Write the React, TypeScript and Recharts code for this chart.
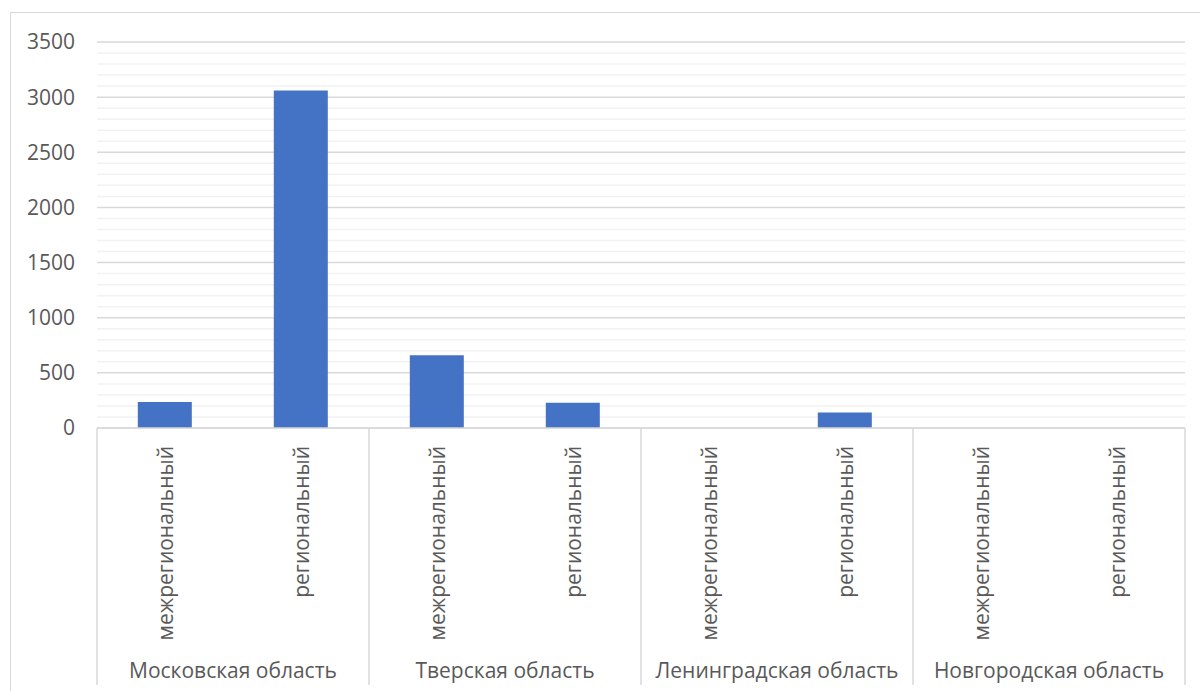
import { BarChart, Bar, XAxis, YAxis, CartesianGrid } from "recharts";

const regions = ["Московская область", "Тверская область", "Ленинградская область", "Новгородская область"];
const routeTypes = ["межрегиональный", "региональный"];
const counts = [235, 3060, 660, 230, 0, 140, 0, 0];
const yTicks = [0, 500, 1000, 1500, 2000, 2500, 3000, 3500];
const minorTicks = [
  100, 200, 300, 400, 600, 700, 800, 900, 1100, 1200, 1300, 1400, 1600, 1700, 1800, 1900,
  2100, 2200, 2300, 2400, 2600, 2700, 2800, 2900, 3100, 3200, 3300, 3400,
];
const Y_MAX = 3500;

const data = counts.map((value, i) => ({
  key: String(i),
  region: regions[Math.floor(i / routeTypes.length)],
  type: routeTypes[i % routeTypes.length],
  value,
}));

const W = 1200;
const H = 691;
const MARGIN = { top: 42, right: 15, left: 0, bottom: 0 };
const YAXIS_W = 97;
const XAXIS_H = 263;
const BAND = (W - MARGIN.left - MARGIN.right - YAXIS_W) / data.length;
const TEXT = "#595959";
const LINE = "#d9d9d9";

function CategoryTick(props: any) {
  const { x, y, payload } = props;
  const i = props.index ?? payload.index;
  const row = data[i];
  const half = BAND / 2;
  const first = i % routeTypes.length === 0;
  return (
    <g>
      <text
        transform={`translate(${x + 8},${y + 18}) rotate(-90)`}
        textAnchor="end"
        fill={TEXT}
        fontSize={21}
      >
        {row.type}
      </text>
      {first && (
        <>
          <line x1={x - half} x2={x - half} y1={y} y2={y + 257} stroke={LINE} strokeWidth={1.5} />
          <text x={x + half} y={y + 250} textAnchor="middle" fill={TEXT} fontSize={21}>
            {row.region}
          </text>
        </>
      )}
      {i === data.length - 1 && (
        <line x1={x + half} x2={x + half} y1={y} y2={y + 257} stroke={LINE} strokeWidth={1.5} />
      )}
    </g>
  );
}

export default function App() {
  return (
    <div
      style={{
        position: "absolute",
        left: 0,
        top: 0,
        width: W,
        height: H,
        overflow: "hidden",
        background: "#fff",
        fontFamily: "'Open Sans', sans-serif",
      }}
    >
      <div
        style={{
          position: "absolute",
          left: 10,
          top: 12,
          width: 1300,
          height: 800,
          border: `1.5px solid ${LINE}`,
        }}
      />
      <div style={{ position: "absolute", left: 0, top: 0 }}>
        <BarChart width={W} height={H} data={data} margin={MARGIN} barCategoryGap="30%">
          <CartesianGrid
            vertical={false}
            stroke="#f2f2f2"
            strokeWidth={1.5}
            horizontalCoordinatesGenerator={({ offset }: any) =>
              minorTicks.map((v) => offset.top + offset.height * (1 - v / Y_MAX))
            }
          />
          <CartesianGrid vertical={false} stroke={LINE} strokeWidth={1.5} />
          <XAxis
            dataKey="key"
            interval={0}
            height={XAXIS_H}
            tickLine={false}
            tickSize={0}
            tickMargin={0}
            axisLine={{ stroke: LINE, strokeWidth: 1.5 }}
            tick={<CategoryTick />}
          />
          <YAxis
            width={YAXIS_W}
            domain={[0, Y_MAX]}
            ticks={yTicks}
            interval={0}
            axisLine={false}
            tickLine={false}
            tickSize={0}
            tickMargin={22}
            tick={{ fill: TEXT, fontSize: 21 }}
          />
          <Bar dataKey="value" fill="#4472c4" isAnimationActive={false} />
        </BarChart>
      </div>
    </div>
  );
}
